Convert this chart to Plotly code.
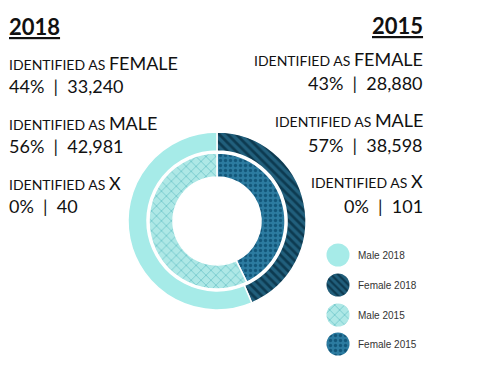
import plotly.graph_objects as go

W, H = 479, 369
OFF = 8  # page body margin

# ---------------- data ----------------
labels = ["Female", "Male"]
values_2018 = [33240, 42981]
values_2015 = [28880, 38598]
x_2018 = 40
x_2015 = 101
groups = ["FEMALE", "MALE", "X"]
pct_2018 = [44, 56, 0]
cnt_2018 = [33240, 42981, 40]
pct_2015 = [43, 57, 0]
cnt_2015 = [28880, 38598, 101]
legend_labels = ["Male 2018", "Female 2018", "Male 2015", "Female 2015"]

# ---------------- styles ----------------
C_MALE18 = "#a6ebe8"
C_FEM18_BG = "#215f7c"
C_FEM18_FG = "#0d3a50"
C_MALE15_BG = "#aee8e6"
C_MALE15_FG = "#6fc6c9"
C_FEM15_BG = "#2c7ba0"
C_FEM15_FG = "#13577a"

style18 = dict(
    colors=[C_FEM18_BG, C_MALE18],
    shape=["\\", ""],
    bg=[C_FEM18_BG, C_MALE18],
    fg=[C_FEM18_FG, C_MALE18],
    size=[6, 8],
    sol=[0.45, 0.3],
)
style15 = dict(
    colors=[C_FEM15_BG, C_MALE15_BG],
    shape=[".", "x"],
    bg=[C_FEM15_BG, C_MALE15_BG],
    fg=[C_FEM15_FG, C_MALE15_FG],
    size=[5, 7],
    sol=[0.35, 0.22],
)


def px(x):
    return (x - OFF) / W


def py(y):
    return 1 - (y - OFF) / H


def dom(cx, cy, r):
    return dict(x=[px(cx - r), px(cx + r)], y=[py(cy + r), py(cy - r)])


def pie(vals, lab, st, domain, hole, name):
    return go.Pie(
        values=vals,
        labels=lab,
        name=name,
        sort=False,
        direction="clockwise",
        rotation=0,
        hole=hole,
        domain=domain,
        textinfo="none",
        hoverinfo="label+value+percent",
        showlegend=False,
        marker=dict(
            colors=st["colors"],
            line=dict(color="white", width=1.5),
            pattern=dict(
                shape=st["shape"],
                bgcolor=st["bg"],
                fgcolor=st["fg"],
                size=st["size"],
                solidity=st["sol"],
                fillmode="replace",
            ),
        ),
    )


fig = go.Figure()
CX, CY = 217, 221
fig.add_trace(pie(values_2018, labels, style18, dom(CX, CY, 89), 70 / 89, "2018"))
fig.add_trace(pie(values_2015, labels, style15, dom(CX, CY, 68), 44 / 68, "2015"))

# legend swatches as tiny single-slice pies
leg_styles = [
    (C_MALE18, "", C_MALE18, C_MALE18, 8, 0.3),
    (C_FEM18_BG, "\\", C_FEM18_BG, C_FEM18_FG, 5, 0.45),
    (C_MALE15_BG, "x", C_MALE15_BG, C_MALE15_FG, 7, 0.22),
    (C_FEM15_BG, ".", C_FEM15_BG, C_FEM15_FG, 5, 0.35),
]
leg_y = [255, 285, 315, 344]
for lab, ly, (c, sh, bg, fg, sz, so) in zip(legend_labels, leg_y, leg_styles):
    fig.add_trace(go.Pie(
        values=[1], labels=[lab], sort=False, textinfo="none", hoverinfo="skip",
        showlegend=False, domain=dom(338, ly, 11.5),
        marker=dict(colors=[c], line=dict(width=0),
                    pattern=dict(shape=[sh], bgcolor=[bg], fgcolor=[fg], size=[sz],
                                 solidity=[so], fillmode="replace")),
    ))

ann = []
FONT = "Lato, Open Sans, sans-serif"

def add_text(x, y, text, size, anchor):
    ann.append(dict(
        x=px(x), y=py(y), xref="paper", yref="paper", text=text, showarrow=False,
        xanchor=anchor, yanchor="middle", align=anchor,
        font=dict(family=FONT, size=size, color="#111111"),
    ))

SEP = "&nbsp; | &nbsp;"

# titles
add_text(7, 26, "<b><u>2018</u></b>", 22, "left")
add_text(425, 25, "<b><u>2015</u></b>", 22, "right")

row_y = [(63, 86), (123, 146), (183, 206)]
for g, p, c, (y1, y2) in zip(groups, pct_2018, cnt_2018, row_y):
    add_text(7, y1, f"IDENTIFIED AS <span style='font-size:18px'>{g}</span>", 14, "left")
    add_text(7, y2, f"{p}%{SEP}{c:,}", 18, "left")

row_y15 = [(59, 83), (120, 145), (181, 206)]
for g, p, c, (y1, y2) in zip(groups, pct_2015, cnt_2015, row_y15):
    add_text(425, y1, f"IDENTIFIED AS <span style='font-size:18px'>{g}</span>", 14, "right")
    add_text(425, y2, f"{p}%{SEP}{c:,}", 18, "right")

for lab, ly in zip(legend_labels, leg_y):
    ann.append(dict(
        x=px(356), y=py(ly), xref="paper", yref="paper", text=lab, showarrow=False,
        xanchor="left", yanchor="middle",
        font=dict(family="Liberation Sans, Arial, sans-serif", size=10, color="#333333"),
    ))

fig.update_layout(
    width=W, height=H,
    margin=dict(l=0, r=0, t=0, b=0),
    paper_bgcolor="white", plot_bgcolor="white",
    annotations=ann,
    showlegend=False,
)

fig.write_html("out.html")
